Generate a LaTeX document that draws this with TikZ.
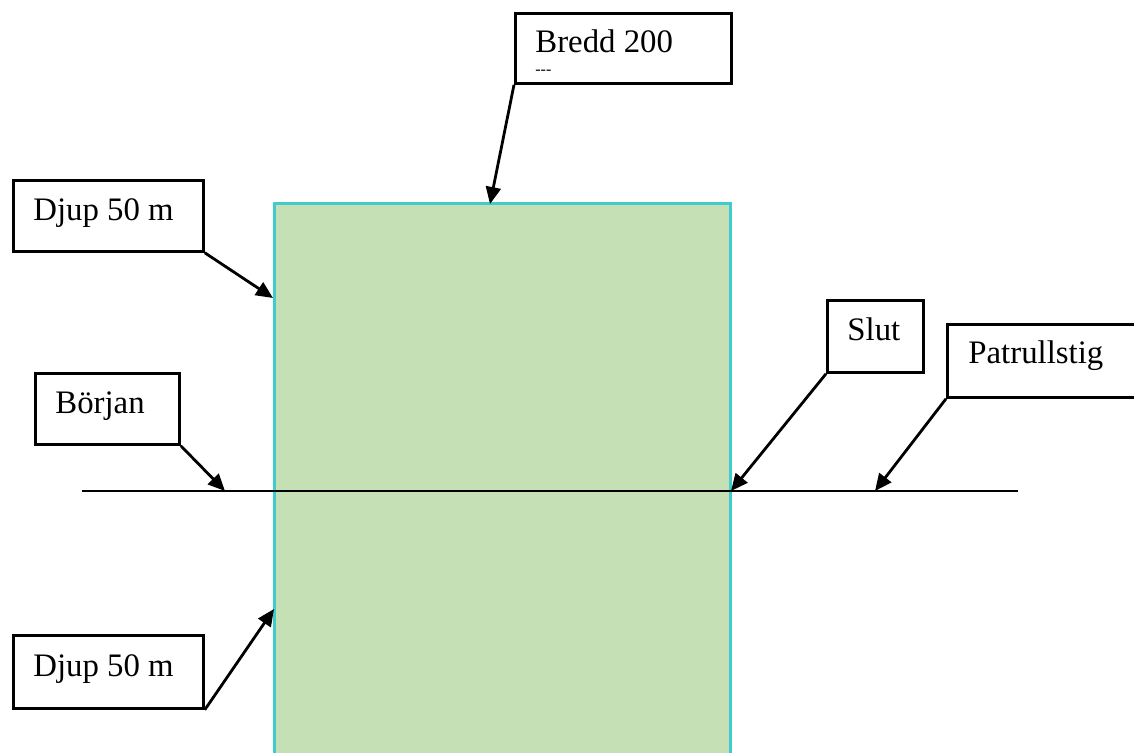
\documentclass[tikz,border=0pt]{standalone}
\usepackage{fontspec}
\setmainfont{Liberation Serif}
\usetikzlibrary{arrows.meta}
\definecolor{fieldgreen}{HTML}{C5E0B4}
\definecolor{fieldedge}{HTML}{40CCCC}
\begin{document}
\begin{tikzpicture}[x=0.5pt,y=-0.5pt,
  labelbox/.style={draw=black,line width=1.4pt,anchor=north west,inner sep=0pt},
  labeltext/.style={anchor=base west,inner sep=0pt,font=\fontsize{16.4}{20}\selectfont},
  pointer/.style={draw=black,line width=1.4pt,-{Triangle[length=8.5pt,width=7.5pt]}}]
\useasboundingbox (0,0) rectangle (1134,753);
\clip (0,0) rectangle (1134,753);
% field
\path[fill=fieldgreen,draw=fieldedge,line width=1.5pt] (274,204) rectangle (730,770);
% path line
\coordinate (pathW) at (82,491);
\coordinate (pathE) at (1018,491);
\draw[line width=1.4pt] (pathW) -- (pathE);
% target points
\coordinate (tBredd) at (490,204);
\coordinate (tDjup1) at (273,298);
\coordinate (tBorjan) at (225,491);
\coordinate (tSlut) at (731,491);
\coordinate (tPatrull) at (875,491);
\coordinate (tDjup2) at (274,609);
% boxes
\node[labelbox,minimum width=108pt,minimum height=35pt] (bredd) at (514,12) {};
\node[labeltext] (breddt) at (535,53) {Bredd 200};
\node[anchor=base west,inner sep=0pt,font=\fontsize{8}{9}\selectfont] (breddm) at (535,75) {-{}-{}-};
\node[labelbox,minimum width=95pt,minimum height=35.5pt] (djup1) at (12,179) {};
\node[labeltext] (djup1t) at (33,221) {Djup 50 m};
\node[labelbox,minimum width=72pt,minimum height=35.5pt] (borjan) at (34,372) {};
\node[labeltext] (borjant) at (55,413) {Början};
\node[labelbox,minimum width=48pt,minimum height=36pt] (slut) at (826,299) {};
\node[labeltext] (slutt) at (847,341) {Slut};
\node[labelbox,minimum width=100pt,minimum height=36.5pt] (patrull) at (946,323) {};
\node[labeltext] (patrullt) at (968,364) {Patrullstig};
\node[labelbox,minimum width=95pt,minimum height=36.5pt] (djup2) at (12,634) {};
\node[labeltext] (djup2t) at (33,676) {Djup 50 m};
% pointers
\draw[pointer] (bredd.south west) -- (tBredd);
\draw[pointer] (djup1.south east) -- (tDjup1);
\draw[pointer] (borjan.south east) -- (tBorjan);
\draw[pointer] (slut.south west) -- (tSlut);
\draw[pointer] (patrull.south west) -- (tPatrull);
\draw[pointer] (djup2.south east) -- (tDjup2);
\end{tikzpicture}
\end{document}
